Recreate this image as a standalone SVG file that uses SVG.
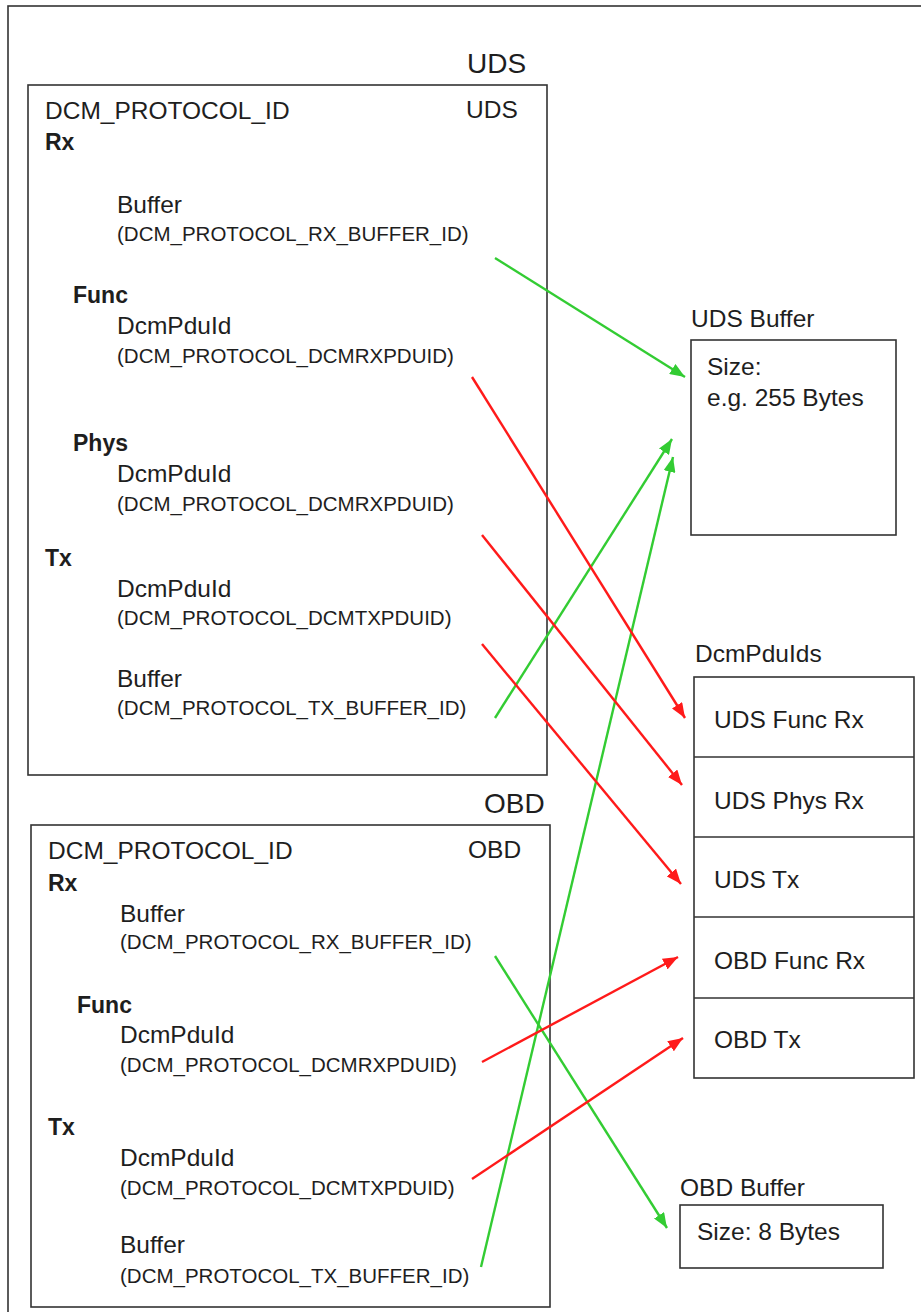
<svg xmlns="http://www.w3.org/2000/svg" width="921" height="1312" viewBox="0 0 921 1312">
<style>
text{font-family:"Liberation Sans",Arial,sans-serif;fill:#1e1e1e}
.t{font-size:24.5px}
.s{font-size:20.5px}
.b{font-size:23px;font-weight:bold}
.h{font-size:28px}
.box{fill:#fff;stroke:#333;stroke-width:1.6}
.g{stroke:#33cc33;stroke-width:2.4;fill:none;marker-end:url(#ag)}
.r{stroke:#ff1a1a;stroke-width:2.4;fill:none;marker-end:url(#ar)}
</style>
<defs>
<marker id="ag" markerUnits="userSpaceOnUse" markerWidth="16" markerHeight="12" refX="15" refY="6" orient="auto"><path d="M0,0 L15,6 L0,12 z" fill="#33cc33"/></marker>
<marker id="ar" markerUnits="userSpaceOnUse" markerWidth="16" markerHeight="12" refX="15" refY="6" orient="auto"><path d="M0,0 L15,6 L0,12 z" fill="#ff1a1a"/></marker>
</defs>
<rect x="0" y="0" width="921" height="1312" fill="#fff"/>
<rect x="8" y="6" width="940" height="1330" fill="none" stroke="#333" stroke-width="1.6"/>

<g id="uds">
<text class="h" x="467" y="73">UDS</text>
<rect class="box" x="28" y="85" width="519" height="690"/>
<text class="t" x="45" y="119">DCM_PROTOCOL_ID</text>
<text class="t" x="466" y="118">UDS</text>
<text class="b" x="45" y="150">Rx</text>
<text class="t" x="117" y="213">Buffer</text>
<text class="s" x="117" y="241">(DCM_PROTOCOL_RX_BUFFER_ID)</text>
<text class="b" x="73" y="303">Func</text>
<text class="t" x="117" y="334">DcmPduId</text>
<text class="s" x="117" y="363">(DCM_PROTOCOL_DCMRXPDUID)</text>
<text class="b" x="73" y="451">Phys</text>
<text class="t" x="117" y="482">DcmPduId</text>
<text class="s" x="117" y="511">(DCM_PROTOCOL_DCMRXPDUID)</text>
<text class="b" x="45" y="566">Tx</text>
<text class="t" x="117" y="597">DcmPduId</text>
<text class="s" x="117" y="625">(DCM_PROTOCOL_DCMTXPDUID)</text>
<text class="t" x="117" y="687">Buffer</text>
<text class="s" x="117" y="715">(DCM_PROTOCOL_TX_BUFFER_ID)</text>
</g>

<g id="obd">
<text class="h" x="484" y="813">OBD</text>
<rect class="box" x="31" y="825" width="519" height="482"/>
<text class="t" x="48" y="859">DCM_PROTOCOL_ID</text>
<text class="t" x="468" y="858">OBD</text>
<text class="b" x="48" y="891">Rx</text>
<text class="t" x="120" y="922">Buffer</text>
<text class="s" x="120" y="949">(DCM_PROTOCOL_RX_BUFFER_ID)</text>
<text class="b" x="77" y="1013">Func</text>
<text class="t" x="120" y="1043">DcmPduId</text>
<text class="s" x="120" y="1072">(DCM_PROTOCOL_DCMRXPDUID)</text>
<text class="b" x="48" y="1135">Tx</text>
<text class="t" x="120" y="1166">DcmPduId</text>
<text class="s" x="120" y="1195">(DCM_PROTOCOL_DCMTXPDUID)</text>
<text class="t" x="120" y="1253">Buffer</text>
<text class="s" x="120" y="1283">(DCM_PROTOCOL_TX_BUFFER_ID)</text>
</g>

<g id="uds-buffer">
<text class="t" x="691" y="327">UDS Buffer</text>
<rect class="box" x="691" y="340" width="205" height="195"/>
<text class="t" x="707" y="375">Size:</text>
<text class="t" x="707" y="406">e.g. 255 Bytes</text>
</g>

<g id="dcmpduids">
<text class="t" x="695" y="662">DcmPduIds</text>
<rect class="box" x="694" y="677" width="220" height="401"/>
<line x1="694" y1="757" x2="914" y2="757" stroke="#333" stroke-width="1.6"/>
<line x1="694" y1="837" x2="914" y2="837" stroke="#333" stroke-width="1.6"/>
<line x1="694" y1="917" x2="914" y2="917" stroke="#333" stroke-width="1.6"/>
<line x1="694" y1="998" x2="914" y2="998" stroke="#333" stroke-width="1.6"/>
<text class="t" x="714" y="728">UDS Func Rx</text>
<text class="t" x="714" y="809">UDS Phys Rx</text>
<text class="t" x="714" y="888">UDS Tx</text>
<text class="t" x="714" y="969">OBD Func Rx</text>
<text class="t" x="714" y="1048">OBD Tx</text>
</g>

<g id="obd-buffer">
<text class="t" x="680" y="1196">OBD Buffer</text>
<rect class="box" x="680" y="1205" width="203" height="63"/>
<text class="t" x="697" y="1240">Size: 8 Bytes</text>
</g>

<g id="connectors">
<line class="g" x1="495" y1="258" x2="685" y2="377"/>
<line class="g" x1="495" y1="718" x2="672" y2="439"/>
<line class="g" x1="481" y1="1267" x2="673" y2="457"/>
<line class="g" x1="495" y1="956" x2="667" y2="1228"/>
<line class="r" x1="472" y1="377" x2="685" y2="718"/>
<line class="r" x1="482" y1="535" x2="682" y2="785"/>
<line class="r" x1="482" y1="644" x2="681" y2="884"/>
<line class="r" x1="482" y1="1062" x2="678" y2="957"/>
<line class="r" x1="472" y1="1179" x2="683" y2="1038"/>
</g>
</svg>
